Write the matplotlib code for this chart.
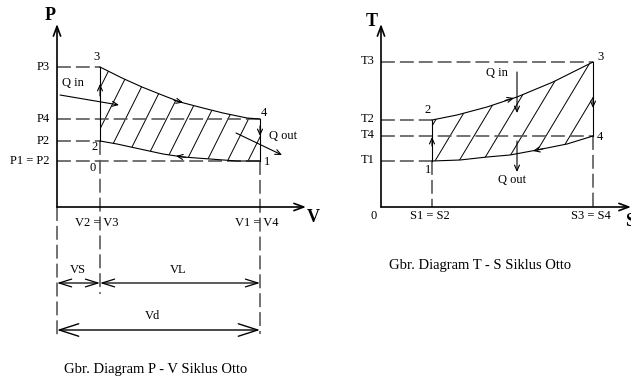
import numpy as np
import matplotlib
matplotlib.use('Agg')
import matplotlib.pyplot as plt
from matplotlib.patches import Polygon
from matplotlib.patches import ArrowStyle

plt.rcParams['font.family'] = ['Liberation Serif', 'DejaVu Serif']
plt.rcParams['lines.scale_dashes'] = False

# ============================================================
# Data (drawing units = pixels of the 631x376 sheet, y downwards)
# ============================================================
# P-V diagram
PV_P_LABELS = ['P3', 'P4', 'P2', 'P1 = P2']
PV_P_LEVELS = [67, 119, 141, 161]
PV_V_LABELS = ['V2 = V3', 'V1 = V4']
PV_V_LEVELS = [100, 260]
PV_ORIGIN = (57, 207)
# expansion 3 -> 4
PV_EXP_V = [100, 122, 142, 162, 180, 203, 223, 247, 260]
PV_EXP_P = [67, 78, 87, 95, 102, 108, 113, 118, 119]
# compression 1 -> 2 (listed from 2 to 1)
PV_COMP_V = [100, 117, 140, 163, 183, 210, 237, 260]
PV_COMP_P = [141, 144, 149, 154, 157, 159, 161, 161]

# T-S diagram
TS_T_LABELS = ['T3', 'T2', 'T4', 'T1']
TS_T_LEVELS = [62, 120, 136, 161]
TS_S_LABELS = ['S1 = S2', 'S3 = S4']
TS_S_LEVELS = [432, 593]
TS_ORIGIN = (381, 207)
# heat addition 2 -> 3
TS_ADD_S = [432, 457, 487, 517, 553, 593]
TS_ADD_T = [120, 115, 107, 97, 82, 62]
# heat rejection 4 -> 1 (listed from 1 to 4)
TS_REJ_S = [432, 460, 487, 510, 537, 567, 593]
TS_REJ_T = [161, 160, 157, 155, 150, 144, 136]

INK = 'black'
GREY = '#5a5a5a'
FS = 9
CAP_FS = 10.5
DASH = (10, 3.6)


def dashed(ax, xs, ys):
    ax.plot(xs, ys, color=GREY, lw=1.2, dashes=DASH, solid_capstyle='butt')


def arrow(ax, tail, head, hl=4.0, hw=1.8, lw=0.8, style='->'):
    ax.annotate('', xy=head, xytext=tail,
                arrowprops=dict(arrowstyle=ArrowStyle(style, head_length=hl, head_width=hw),
                                mutation_scale=1, lw=lw, color=INK,
                                shrinkA=0, shrinkB=0))


def hatch(ax, xs, ys, start, step, k, y_ref):
    poly = Polygon(np.column_stack([xs, ys]), closed=True, fill=False, lw=0)
    ax.add_patch(poly)
    for c in np.arange(start - 10 * step, start + 12 * step, step):
        yy = np.array([0.0, 376.0])
        xx = c + (y_ref - yy) * k
        ln, = ax.plot(xx, yy, color=INK, lw=0.7)
        ln.set_clip_path(poly)


fig = plt.figure(figsize=(6.31, 3.76), dpi=100)
ax = fig.add_axes([0, 0, 1, 1])
ax.set_xlim(0, 631)
ax.set_ylim(376, 0)
ax.axis('off')

# ============================================================
# 1. P-V diagram
# ============================================================
ox, oy = PV_ORIGIN
p3, p4, p2, p1 = PV_P_LEVELS
v2, v1 = PV_V_LEVELS

# hatched area
hx = PV_EXP_V + [v1] + PV_COMP_V[::-1]
hy = PV_EXP_P + [p1] + PV_COMP_P[::-1]
hatch(ax, hx, hy, start=105, step=20.5, k=0.5, y_ref=p4)

# axes
arrow(ax, (ox, oy), (ox, 24), hl=7, hw=2.6, lw=1.2)
arrow(ax, (ox, oy), (306, oy), hl=7, hw=2.6, lw=1.2)
ax.text(50, 16, 'P', fontsize=13, fontweight='bold', ha='center', va='center')
ax.text(313, 218, 'V', fontsize=13, fontweight='bold', ha='center', va='center')

# guide lines
dashed(ax, [ox, v2], [p3, p3])
dashed(ax, [ox, v1], [p4, p4])
dashed(ax, [ox, v2], [p2, p2])
dashed(ax, [ox, v1], [p1, p1])
dashed(ax, [ox, ox], [oy, 336])
dashed(ax, [v2, v2], [p2, 294])
dashed(ax, [v1, v1], [p1, 334])
for lab, lev in zip(PV_P_LABELS, PV_P_LEVELS):
    ax.text(50, lev, lab, fontsize=FS, ha='right', va='center')
for lab, lev in zip(PV_V_LABELS, PV_V_LEVELS):
    ax.text(lev - 3, 223, lab, fontsize=FS, ha='center', va='center')

# cycle
ax.plot(PV_EXP_V, PV_EXP_P, color=INK, lw=0.8)
ax.plot(PV_COMP_V, PV_COMP_P, color=INK, lw=0.8)
ax.plot([v2, v2], [p2, p3], color=INK, lw=0.8)
ax.plot([v1, v1], [p4, p1], color=INK, lw=0.8)
arrow(ax, (v2, 96), (v2, 84))
arrow(ax, (174, 100.3), (183, 102.5))
arrow(ax, (v1, 126), (v1, 136))
arrow(ax, (186, 157.4), (176, 156))
ax.text(97, 57, '3', fontsize=FS, ha='center', va='center')
ax.text(95, 147, '2', fontsize=FS, ha='center', va='center')
ax.text(93, 168, '0', fontsize=FS, ha='center', va='center')
ax.text(264, 113, '4', fontsize=FS, ha='center', va='center')
ax.text(267, 162, '1', fontsize=FS, ha='center', va='center')

# heat
ax.text(73, 83, 'Q in', fontsize=FS, ha='center', va='center')
arrow(ax, (60, 95), (119, 105))
ax.text(269, 136, 'Q out', fontsize=FS, ha='left', va='center')
arrow(ax, (236, 133), (282, 155))

# dimensions
arrow(ax, (ox, 283), (v2, 283), hl=9, hw=2.8, lw=0.9, style='<->')
arrow(ax, (v2, 283), (v1, 283), hl=9, hw=2.8, lw=0.9, style='<->')
arrow(ax, (ox, 330), (v1, 330), hl=14, hw=4.5, lw=1.0, style='<->')
ax.text(78, 270, 'VS', fontsize=FS, ha='center', va='center')
ax.text(178, 270, 'VL', fontsize=FS, ha='center', va='center')
ax.text(152, 316, 'Vd', fontsize=FS, ha='center', va='center')
ax.text(156, 369, 'Gbr. Diagram P - V Siklus Otto', fontsize=CAP_FS, ha='center', va='center')

# ============================================================
# 2. T-S diagram
# ============================================================
ox, oy = TS_ORIGIN
t3, t2, t4, t1 = TS_T_LEVELS
s1, s3 = TS_S_LEVELS

hx = TS_ADD_S + [s3] + TS_REJ_S[::-1]
hy = TS_ADD_T + [t4] + TS_REJ_T[::-1]
hatch(ax, hx, hy, start=450, step=24, k=0.6, y_ref=t4)

arrow(ax, (ox, oy), (ox, 24), hl=7, hw=2.6, lw=1.2)
arrow(ax, (ox, oy), (631, oy), hl=7, hw=2.6, lw=1.2)
ax.text(372, 21, 'T', fontsize=13, fontweight='bold', ha='center', va='center')
ax.text(625, 221, 'S', fontsize=13, fontweight='bold', ha='left', va='center')
ax.text(374, 216, '0', fontsize=FS, ha='center', va='center')

dashed(ax, [ox, s3], [t3, t3])
dashed(ax, [ox, s1], [t2, t2])
dashed(ax, [ox, s3], [t4, t4])
dashed(ax, [ox, s1], [t1, t1])
dashed(ax, [s1, s1], [t1, oy])
dashed(ax, [s3, s3], [t4, oy])
for lab, lev in zip(TS_T_LABELS, TS_T_LEVELS):
    ax.text(375, lev - 1, lab, fontsize=FS, ha='right', va='center')
for lab, lev in zip(TS_S_LABELS, TS_S_LEVELS):
    ax.text(lev - 2, 216, lab, fontsize=FS, ha='center', va='center')

ax.plot(TS_ADD_S, TS_ADD_T, color=INK, lw=0.8)
ax.plot(TS_REJ_S, TS_REJ_T, color=INK, lw=0.8)
ax.plot([s1, s1], [t1, t2], color=INK, lw=0.8)
ax.plot([s3, s3], [t3, t4], color=INK, lw=0.8)
arrow(ax, (s1, 146), (s1, 137))
arrow(ax, (505, 100.5), (514, 98))
arrow(ax, (s3, 98), (s3, 108))
arrow(ax, (543, 148.8), (533, 151))
ax.text(428, 110, '2', fontsize=FS, ha='center', va='center')
ax.text(600, 57, '3', fontsize=FS, ha='center', va='center')
ax.text(600, 137, '4', fontsize=FS, ha='center', va='center')
ax.text(428, 170, '1', fontsize=FS, ha='center', va='center')

ax.text(497, 73, 'Q in', fontsize=FS, ha='center', va='center')
arrow(ax, (517, 72), (517, 113))
arrow(ax, (517, 141), (517, 172))
ax.text(512, 180, 'Q out', fontsize=FS, ha='center', va='center')

ax.text(480, 266, 'Gbr. Diagram T - S Siklus Otto', fontsize=CAP_FS, ha='center', va='center')

fig.savefig('out.png', dpi=100, facecolor='white')
